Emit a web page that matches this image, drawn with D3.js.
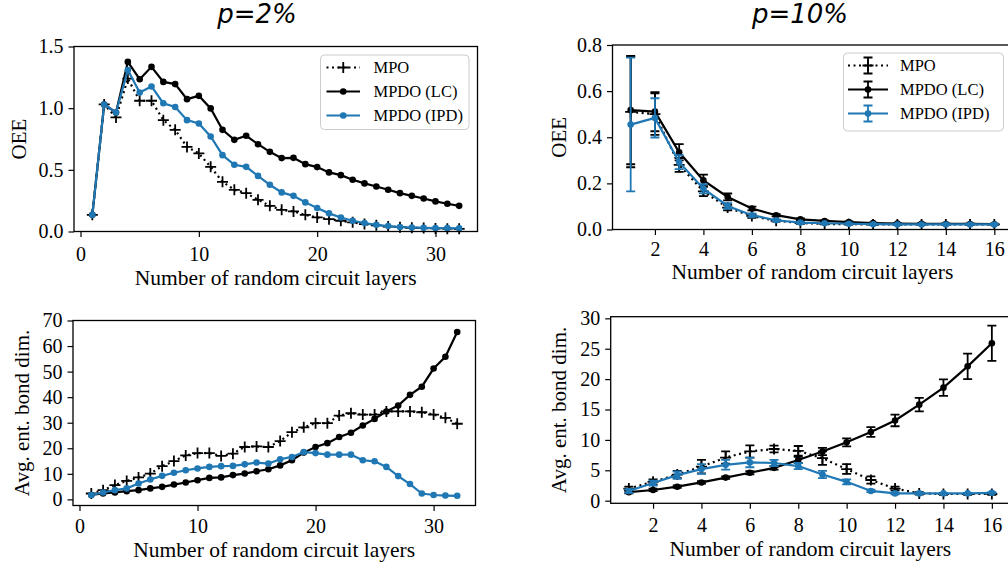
<!DOCTYPE html>
<html>
<head>
<meta charset="utf-8">
<script src="https://cdn.jsdelivr.net/npm/d3@7"></script>
<style>
  body { margin: 0; background: #fff; }
  svg text { font-family: "Liberation Serif", "Times New Roman", serif; fill: #000; }
  svg text.title { font-family: "DejaVu Sans", sans-serif; font-style: italic; font-size: 26px; }
</style>
</head>
<body>
<svg id="fig" width="1008" height="568"></svg>
<script>
// ---- data ----
const layers32 = d3.range(1, 33);
const layers16 = d3.range(1, 17);

// p = 2%, OEE
const oee2Mpo = [0.135, 1.03, 0.925, 1.24, 1.06, 1.06, 0.903, 0.824, 0.686, 0.633, 0.524, 0.403, 0.338, 0.311, 0.257, 0.208,
  0.176, 0.163, 0.135, 0.114, 0.10, 0.087, 0.074, 0.06, 0.05, 0.04, 0.035, 0.03, 0.028, 0.025, 0.023, 0.022];
const oee2Lc = [0.135, 1.03, 0.965, 1.375, 1.235, 1.335, 1.213, 1.195, 1.073, 1.10, 0.998, 0.824, 0.743, 0.776, 0.708, 0.646,
  0.595, 0.597, 0.546, 0.522, 0.479, 0.457, 0.419, 0.39, 0.365, 0.338, 0.311, 0.289, 0.268, 0.244, 0.225, 0.208];
const oee2Ipd = [0.135, 1.03, 0.965, 1.31, 1.127, 1.176, 1.04, 1.01, 0.903, 0.876, 0.77, 0.619, 0.541, 0.524, 0.451, 0.379,
  0.317, 0.289, 0.236, 0.19, 0.147, 0.114, 0.087, 0.068, 0.054, 0.044, 0.036, 0.033, 0.03, 0.028, 0.027, 0.025];

// p = 10%, OEE (mean and error)
const oee10Mpo = [0.51, 0.50, 0.28, 0.165, 0.095, 0.058, 0.038, 0.028, 0.024, 0.023, 0.022, 0.022, 0.022, 0.022, 0.022, 0.022];
const oee10MpoErr = [0.24, 0.09, 0.03, 0.02, 0.012, 0.007, 0.004, 0.003, 0.002, 0.002, 0.002, 0.002, 0.002, 0.002, 0.002, 0.002];
const oee10Lc = [0.518, 0.511, 0.335, 0.213, 0.141, 0.091, 0.062, 0.044, 0.037, 0.032, 0.028, 0.026, 0.025, 0.024, 0.024, 0.023];
const oee10LcErr = [0.235, 0.085, 0.035, 0.025, 0.015, 0.008, 0.005, 0.004, 0.003, 0.003, 0.002, 0.002, 0.002, 0.002, 0.002, 0.002];
const oee10Ipd = [0.455, 0.484, 0.292, 0.177, 0.102, 0.062, 0.04, 0.03, 0.027, 0.025, 0.023, 0.022, 0.022, 0.022, 0.022, 0.022];
const oee10IpdErr = [0.29, 0.085, 0.03, 0.02, 0.012, 0.007, 0.004, 0.003, 0.002, 0.002, 0.002, 0.002, 0.002, 0.002, 0.002, 0.002];

// p = 2%, bond dimension
const bond2Mpo = [2.3, 3.6, 5.6, 7.2, 8.6, 10.1, 13.0, 15.0, 17.2, 18.1, 18.1, 17.0, 17.9, 20.5, 20.7, 20.5,
  22.8, 26.3, 28.2, 29.8, 29.8, 32.8, 33.7, 33.2, 33.2, 34.4, 34.4, 34.4, 34.1, 33.2, 31.9, 29.6];
const bond2Lc = [1.7, 2.3, 2.7, 3.2, 3.6, 4.3, 4.9, 5.8, 6.6, 7.5, 8.4, 8.6, 9.5, 10.1, 11.0, 11.8,
  13.3, 15.3, 18.3, 20.5, 22.0, 24.4, 26.1, 28.9, 31.5, 34.4, 36.7, 40.9, 44.1, 51.2, 55.8, 65.5];
const bond2Ipd = [1.7, 2.7, 3.6, 4.3, 6.2, 7.8, 9.2, 10.4, 11.4, 12.1, 12.7, 13.0, 13.1, 13.7, 14.4, 14.0,
  15.7, 16.6, 18.5, 18.1, 17.5, 17.5, 17.5, 15.3, 14.9, 12.7, 9.1, 6.0, 2.3, 1.7, 1.5, 1.4];

// p = 10%, bond dimension (mean and error)
const bond10Mpo = [2.0, 3.1, 4.3, 5.6, 7.1, 8.1, 8.5, 8.2, 7.0, 5.2, 3.4, 2.0, 1.2, 1.1, 1.1, 1.1];
const bond10MpoErr = [0.3, 0.4, 0.6, 1.1, 1.0, 1.0, 0.55, 0.8, 1.1, 0.8, 0.6, 0.3, 0.2, 0.15, 0.15, 0.15];
const bond10Lc = [1.4, 1.76, 2.3, 3.0, 3.8, 4.6, 5.4, 6.7, 8.1, 9.6, 11.3, 13.2, 15.8, 18.6, 22.1, 25.9];
const bond10LcErr = [0.2, 0.2, 0.2, 0.2, 0.2, 0.25, 0.3, 0.5, 0.6, 0.65, 0.8, 0.95, 1.1, 1.35, 2.1, 2.9];
const bond10Ipd = [1.6, 2.9, 4.2, 5.2, 5.9, 6.3, 6.2, 5.7, 4.3, 3.1, 1.6, 1.2, 1.2, 1.2, 1.2, 1.3];
const bond10IpdErr = [0.3, 0.4, 0.6, 0.8, 0.8, 0.8, 0.5, 0.5, 0.6, 0.4, 0.2, 0.15, 0.1, 0.1, 0.1, 0.1];

// ticks and labels
const ticks32 = [0, 10, 20, 30];
const ticks16 = [2, 4, 6, 8, 10, 12, 14, 16];
const oee2Ticks = [0, 0.5, 1.0, 1.5];
const oee10Ticks = [0, 0.2, 0.4, 0.6, 0.8];
const bond2Ticks = [0, 10, 20, 30, 40, 50, 60, 70];
const bond10Ticks = [0, 5, 10, 15, 20, 25, 30];
const seriesNames = ['MPO', 'MPDO (LC)', 'MPDO (IPD)'];
const titles = ['p=2%', 'p=10%'];

const blue = '#1f77b4';
const serif = '"Liberation Serif", "Times New Roman", serif';
const svg = d3.select('#fig');

function plus(g, x, y, color) {
  g.append('path')
    .attr('d', `M${x - 5.5},${y}H${x + 5.5}M${x},${y - 5.5}V${y + 5.5}`)
    .attr('stroke', color)
    .attr('stroke-width', 1.8)
    .attr('fill', 'none');
}

function panel(cfg) {
  const xScale = d3.scaleLinear().domain(cfg.xDomain).range([cfg.left, cfg.right]);
  const yScale = d3.scaleLinear().domain(cfg.yDomain).range([cfg.bottom, cfg.top]);
  const g = svg.append('g');

  // series
  cfg.series.forEach(s => {
    const pts = s.xs.map((x, i) => ({ x: x, y: s.ys[i], e: s.err ? s.err[i] : 0 }));
    const line = d3.line().x(d => xScale(d.x)).y(d => yScale(d.y));
    if (s.err) {
      pts.forEach(d => {
        const cx = xScale(d.x), y0 = yScale(d.y - d.e), y1 = yScale(d.y + d.e);
        g.append('path')
          .attr('d', `M${cx},${y0}V${y1}M${cx - 4.5},${y0}H${cx + 4.5}M${cx - 4.5},${y1}H${cx + 4.5}`)
          .attr('stroke', s.color)
          .attr('stroke-width', 1.8)
          .attr('fill', 'none');
      });
    }
    g.append('path')
      .datum(pts)
      .attr('d', line)
      .attr('fill', 'none')
      .attr('stroke', s.color)
      .attr('stroke-width', 2.2)
      .attr('stroke-dasharray', s.dotted ? '2,3.5' : null);
    pts.forEach(d => {
      if (s.marker === 'plus') plus(g, xScale(d.x), yScale(d.y), s.color);
      else g.append('circle').attr('cx', xScale(d.x)).attr('cy', yScale(d.y)).attr('r', 3.3).attr('fill', s.color);
    });
  });

  // frame
  g.append('rect')
    .attr('x', cfg.left).attr('y', cfg.top)
    .attr('width', cfg.right - cfg.left).attr('height', cfg.bottom - cfg.top)
    .attr('fill', 'none').attr('stroke', '#000').attr('stroke-width', 1.3);

  // axes
  const xAxis = d3.axisBottom(xScale).tickValues(cfg.xTicks).tickSize(5.5).tickSizeOuter(0)
    .tickPadding(cfg.xPad).tickFormat(d3.format('d'));
  g.append('g')
    .attr('transform', `translate(0,${cfg.bottom})`)
    .call(xAxis)
    .attr('font-family', serif)
    .call(a => a.select('.domain').remove())
    .call(a => a.selectAll('line').attr('stroke-width', 1.2))
    .call(a => a.selectAll('text').attr('font-size', 20).attr('font-family', serif));

  const yAxis = d3.axisLeft(yScale).tickValues(cfg.yTicks).tickSize(5.5).tickSizeOuter(0)
    .tickPadding(5).tickFormat(cfg.yFmt);
  g.append('g')
    .attr('transform', `translate(${cfg.left},0)`)
    .call(yAxis)
    .attr('font-family', serif)
    .call(a => a.select('.domain').remove())
    .call(a => a.selectAll('line').attr('stroke-width', 1.2))
    .call(a => a.selectAll('text').attr('font-size', 20).attr('font-family', serif));

  g.append('text')
    .attr('x', (cfg.left + cfg.right) / 2)
    .attr('y', cfg.xLabelY)
    .attr('text-anchor', 'middle')
    .attr('font-family', serif)
    .attr('font-size', 21.5)
    .text('Number of random circuit layers');

  g.append('text')
    .attr('transform', `translate(${cfg.yLabelX},${(cfg.top + cfg.bottom) / 2}) rotate(-90)`)
    .attr('text-anchor', 'middle')
    .attr('font-family', serif)
    .attr('font-size', 21)
    .text(cfg.yLabel);

  // legend
  if (cfg.legend) {
    const L = cfg.legend;
    const lg = g.append('g');
    lg.append('rect')
      .attr('x', L.x).attr('y', L.y).attr('width', L.w).attr('height', L.h)
      .attr('rx', 4)
      .attr('fill', '#fff').attr('fill-opacity', 0.8)
      .attr('stroke', '#ccc').attr('stroke-width', 1);
    cfg.series.forEach((s, i) => {
      const yy = L.y + 12.5 + i * 24;
      const mx = (L.lx0 + L.lx1) / 2;
      if (s.err) {
        lg.append('path')
          .attr('d', `M${mx},${yy - 8}V${yy + 8}M${mx - 4.5},${yy - 8}H${mx + 4.5}M${mx - 4.5},${yy + 8}H${mx + 4.5}`)
          .attr('stroke', s.color).attr('stroke-width', 1.8).attr('fill', 'none');
      }
      lg.append('line')
        .attr('x1', L.lx0).attr('x2', L.lx1).attr('y1', yy).attr('y2', yy)
        .attr('stroke', s.color).attr('stroke-width', 2.2)
        .attr('stroke-dasharray', s.dotted ? '2,3.5' : null);
      if (s.marker === 'plus') plus(lg, mx, yy, s.color);
      else lg.append('circle').attr('cx', mx).attr('cy', yy).attr('r', 3.3).attr('fill', s.color);
      lg.append('text')
        .attr('x', L.tx).attr('y', yy + 5.5)
        .attr('font-family', serif)
        .attr('font-size', 16.5)
        .text(s.name);
    });
  }
}

const fmt1 = d3.format('.1f');

panel({
  left: 74, right: 477.5, top: 46.5, bottom: 231.5,
  xDomain: [-0.55, 33.55], yDomain: [0, 1.5],
  xTicks: ticks32, yTicks: oee2Ticks, yFmt: fmt1, xPad: 9.5,
  xLabelY: 285, yLabelX: 26, yLabel: 'OEE',
  series: [
    { name: seriesNames[0], xs: layers32, ys: oee2Mpo, color: '#000', marker: 'plus', dotted: true },
    { name: seriesNames[1], xs: layers32, ys: oee2Lc, color: '#000', marker: 'dot' },
    { name: seriesNames[2], xs: layers32, ys: oee2Ipd, color: blue, marker: 'dot' }
  ],
  legend: { x: 320.5, y: 55, w: 148.5, h: 74.5, lx0: 326.5, lx1: 360, tx: 373.5 }
});

panel({
  left: 612.5, right: 1012.5, top: 45, bottom: 229.5,
  xDomain: [0.25, 16.75], yDomain: [0, 0.8],
  xTicks: ticks16, yTicks: oee10Ticks, yFmt: fmt1, xPad: 7,
  xLabelY: 278.5, yLabelX: 566, yLabel: 'OEE',
  series: [
    { name: seriesNames[0], xs: layers16, ys: oee10Mpo, err: oee10MpoErr, color: '#000', marker: 'plus', dotted: true },
    { name: seriesNames[1], xs: layers16, ys: oee10Lc, err: oee10LcErr, color: '#000', marker: 'dot' },
    { name: seriesNames[2], xs: layers16, ys: oee10Ipd, err: oee10IpdErr, color: blue, marker: 'dot' }
  ],
  legend: { x: 843.5, y: 53, w: 160, h: 78, lx0: 848, lx1: 888, tx: 900 }
});

panel({
  left: 73, right: 475.5, top: 320.5, bottom: 505.5,
  xDomain: [-0.55, 33.55], yDomain: [-2.4, 70],
  xTicks: ticks32, yTicks: bond2Ticks, yFmt: d3.format('d'), xPad: 8,
  xLabelY: 557, yLabelX: 29, yLabel: 'Avg. ent. bond dim.',
  series: [
    { name: seriesNames[0], xs: layers32, ys: bond2Mpo, color: '#000', marker: 'plus', dotted: true },
    { name: seriesNames[1], xs: layers32, ys: bond2Lc, color: '#000', marker: 'dot' },
    { name: seriesNames[2], xs: layers32, ys: bond2Ipd, color: blue, marker: 'dot' }
  ]
});

panel({
  left: 610.7, right: 1010, top: 316.7, bottom: 503.3,
  xDomain: [0.25, 16.75], yDomain: [-0.43, 30.27],
  xTicks: ticks16, yTicks: bond10Ticks, yFmt: d3.format('d'), xPad: 9,
  xLabelY: 556, yLabelX: 566, yLabel: 'Avg. ent. bond dim.',
  series: [
    { name: seriesNames[0], xs: layers16, ys: bond10Mpo, err: bond10MpoErr, color: '#000', marker: 'plus', dotted: true },
    { name: seriesNames[1], xs: layers16, ys: bond10Lc, err: bond10LcErr, color: '#000', marker: 'dot' },
    { name: seriesNames[2], xs: layers16, ys: bond10Ipd, err: bond10IpdErr, color: blue, marker: 'dot' }
  ]
});

// column titles
svg.append('text').attr('class', 'title').attr('x', 257).attr('y', 23).attr('text-anchor', 'middle').text(titles[0]);
svg.append('text').attr('class', 'title').attr('x', 800).attr('y', 23).attr('text-anchor', 'middle').text(titles[1]);
</script>
</body>
</html>
